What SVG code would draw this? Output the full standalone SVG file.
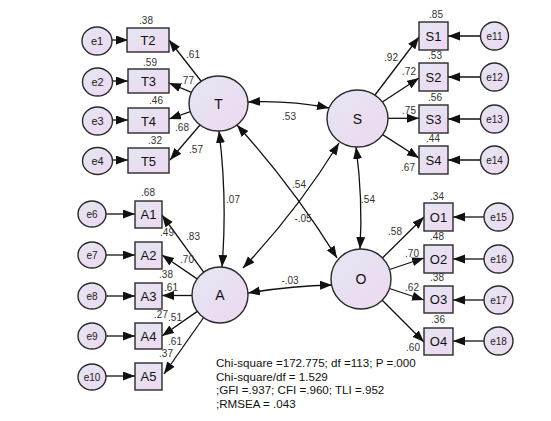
<svg xmlns="http://www.w3.org/2000/svg" width="551" height="421" viewBox="0 0 551 421">
<defs>
<linearGradient id="g" x1="0" y1="0" x2="1" y2="1">
<stop offset="0" stop-color="#e4e6f2"/>
<stop offset="1" stop-color="#eed8f1"/>
</linearGradient>
<marker id="ah" markerUnits="userSpaceOnUse" markerWidth="13" markerHeight="10" refX="12" refY="4.5" orient="auto-start-reverse">
<path d="M0,0 L12,4.5 L0,9 z" fill="#111"/>
</marker>
<style>
.n{fill:url(#g);stroke:#2a2a2a;stroke-width:1.4}
.c{fill:none;stroke:#111;stroke-width:1.3;marker-end:url(#ah)}
.d{fill:none;stroke:#111;stroke-width:1.3;marker-end:url(#ah);marker-start:url(#ah)}
.v{font-family:"Liberation Sans",Arial,sans-serif;font-size:10px;fill:#333;text-anchor:middle}
.b{font-family:"Liberation Sans",Arial,sans-serif;font-size:13px;fill:#111;text-anchor:middle}
.l{font-family:"Liberation Sans",Arial,sans-serif;font-size:14px;fill:#111;text-anchor:middle}
.e{font-family:"Liberation Sans",Arial,sans-serif;font-size:11px;fill:#222;text-anchor:middle}
.s{font-family:"Liberation Sans",Arial,sans-serif;font-size:10px;fill:#222;text-anchor:middle}
.f{font-family:"Liberation Sans",Arial,sans-serif;font-size:11.6px;fill:#111}
</style>
</defs>
<rect width="551" height="421" fill="#fff"/>
<g id="connectors">
<path class="c" d="M112,40 L128,40"/>
<path class="c" d="M112.5,81 L128,81"/>
<path class="c" d="M112.5,120 L128,120"/>
<path class="c" d="M112.5,160 L128,160"/>
<path class="c" d="M106,214 L135,214"/>
<path class="c" d="M106,255 L135,255"/>
<path class="c" d="M106,296 L135,296"/>
<path class="c" d="M106,336 L135,336"/>
<path class="c" d="M106,376 L135,376"/>
<path class="c" d="M480.5,36 L448,36"/>
<path class="c" d="M480.5,77 L448,77"/>
<path class="c" d="M480.5,119 L448,119"/>
<path class="c" d="M480.5,160 L448,160"/>
<path class="c" d="M484,217 L453,217"/>
<path class="c" d="M484,259 L453,259"/>
<path class="c" d="M484,300 L453,300"/>
<path class="c" d="M484,341 L453,341"/>
<path class="c" d="M201,81 L169,40"/>
<path class="c" d="M191.5,92.3 L169,83"/>
<path class="c" d="M190.4,111.7 L169,119"/>
<path class="c" d="M200,125 L170,160"/>
<path class="c" d="M375,95 L419,37"/>
<path class="c" d="M382.4,102 L419,78"/>
<path class="c" d="M388,118.3 L419,118.3"/>
<path class="c" d="M382.6,134.6 L419,158"/>
<path class="c" d="M382.4,258 L424,217"/>
<path class="c" d="M389.5,269.5 L424,258"/>
<path class="c" d="M389.5,288.5 L424,300"/>
<path class="c" d="M382.2,300.2 L424,342"/>
<path class="c" d="M203.7,272.2 L162,215"/>
<path class="c" d="M197.1,278.9 L162,255"/>
<path class="c" d="M192,295.5 L162,295.5"/>
<path class="c" d="M197.3,311.4 L162,336"/>
<path class="c" d="M204,317 L164,374"/>
<path class="d" d="M248,102 Q288,100 329,108"/>
<path class="d" d="M219,131 Q227.5,199 222,267"/>
<path class="d" d="M237,125 Q293,187 337,258"/>
<path class="d" d="M339,143 Q297,211 243,268"/>
<path class="d" d="M356,147 Q363,199 360,249"/>
<path class="d" d="M248,293 Q290,286 332,285"/>
</g>
<g id="T"><ellipse class="n" cx="218.5" cy="103.5" rx="29.5" ry="27.5"/><text class="l" x="218.5" y="108.5">T</text></g>
<g id="S"><ellipse class="n" cx="357.5" cy="118.5" rx="30.5" ry="28.5"/><text class="l" x="357.5" y="123.5">S</text></g>
<g id="A"><ellipse class="n" cx="220" cy="295" rx="28" ry="28"/><text class="l" x="220" y="300">A</text></g>
<g id="O"><ellipse class="n" cx="361" cy="279" rx="30" ry="30"/><text class="l" x="361" y="284">O</text></g>
<g id="T2"><rect class="n" x="127" y="28" width="42" height="24"/><text class="b" x="148" y="45">T2</text></g>
<g id="T3"><rect class="n" x="128" y="69" width="41" height="24"/><text class="b" x="148.5" y="86">T3</text></g>
<g id="T4"><rect class="n" x="128" y="108" width="41" height="25"/><text class="b" x="148.5" y="125.5">T4</text></g>
<g id="T5"><rect class="n" x="128" y="148" width="41" height="25"/><text class="b" x="148.5" y="165.5">T5</text></g>
<g id="A1"><rect class="n" x="135" y="201" width="27" height="27"/><text class="b" x="148.5" y="219">A1</text></g>
<g id="A2"><rect class="n" x="135" y="242" width="27" height="27"/><text class="b" x="148.5" y="260">A2</text></g>
<g id="A3"><rect class="n" x="135" y="283" width="27" height="26"/><text class="b" x="148.5" y="300.5">A3</text></g>
<g id="A4"><rect class="n" x="135" y="323" width="27" height="26"/><text class="b" x="148.5" y="340.5">A4</text></g>
<g id="A5"><rect class="n" x="135" y="363" width="27" height="27"/><text class="b" x="148.5" y="381">A5</text></g>
<g id="S1"><rect class="n" x="419" y="22" width="29" height="28"/><text class="b" x="433.5" y="40.5">S1</text></g>
<g id="S2"><rect class="n" x="419" y="63" width="29" height="28"/><text class="b" x="433.5" y="81.5">S2</text></g>
<g id="S3"><rect class="n" x="419" y="105" width="29" height="28"/><text class="b" x="433.5" y="123.5">S3</text></g>
<g id="S4"><rect class="n" x="419" y="146" width="29" height="28"/><text class="b" x="433.5" y="164.5">S4</text></g>
<g id="O1"><rect class="n" x="424" y="203" width="29" height="28"/><text class="b" x="438.5" y="221.5">O1</text></g>
<g id="O2"><rect class="n" x="424" y="245" width="29" height="28"/><text class="b" x="438.5" y="263.5">O2</text></g>
<g id="O3"><rect class="n" x="424" y="286" width="29" height="27"/><text class="b" x="438.5" y="304">O3</text></g>
<g id="O4"><rect class="n" x="424" y="328" width="29" height="27"/><text class="b" x="438.5" y="346">O4</text></g>
<g id="e1"><ellipse class="n" cx="97" cy="41" rx="15" ry="14"/><text class="e" x="97" y="45">e1</text></g>
<g id="e2"><ellipse class="n" cx="97.5" cy="82" rx="15" ry="14"/><text class="e" x="97.5" y="86">e2</text></g>
<g id="e3"><ellipse class="n" cx="97.5" cy="121" rx="15" ry="14"/><text class="e" x="97.5" y="125">e3</text></g>
<g id="e4"><ellipse class="n" cx="97.5" cy="161" rx="15" ry="13.5"/><text class="e" x="97.5" y="165">e4</text></g>
<g id="e6"><ellipse class="n" cx="92" cy="214" rx="14" ry="13"/><text class="s" x="92" y="217.5">e6</text></g>
<g id="e7"><ellipse class="n" cx="92" cy="255" rx="14" ry="13"/><text class="s" x="92" y="258.5">e7</text></g>
<g id="e8"><ellipse class="n" cx="92" cy="296" rx="14" ry="13"/><text class="s" x="92" y="299.5">e8</text></g>
<g id="e9"><ellipse class="n" cx="92" cy="336" rx="14" ry="13"/><text class="s" x="92" y="339.5">e9</text></g>
<g id="e10"><ellipse class="n" cx="92" cy="377" rx="14" ry="13"/><text class="s" x="92" y="380.5">e10</text></g>
<g id="e11"><ellipse class="n" cx="494.5" cy="36" rx="14" ry="14"/><text class="s" x="494.5" y="39.5">e11</text></g>
<g id="e12"><ellipse class="n" cx="494.5" cy="77" rx="14" ry="14"/><text class="s" x="494.5" y="80.5">e12</text></g>
<g id="e13"><ellipse class="n" cx="494.5" cy="119" rx="14" ry="14"/><text class="s" x="494.5" y="122.5">e13</text></g>
<g id="e14"><ellipse class="n" cx="494.5" cy="160" rx="14" ry="14"/><text class="s" x="494.5" y="163.5">e14</text></g>
<g id="e15"><ellipse class="n" cx="498.5" cy="217" rx="14.5" ry="14"/><text class="s" x="498.5" y="220.5">e15</text></g>
<g id="e16"><ellipse class="n" cx="498.5" cy="259" rx="14.5" ry="14"/><text class="s" x="498.5" y="262.5">e16</text></g>
<g id="e17"><ellipse class="n" cx="498.5" cy="300" rx="14.5" ry="14"/><text class="s" x="498.5" y="303.5">e17</text></g>
<g id="e18"><ellipse class="n" cx="498.5" cy="341" rx="14.5" ry="14"/><text class="s" x="498.5" y="344.5">e18</text></g>
<g id="labels">
<text class="v" x="146" y="23.5">.38</text>
<text class="v" x="193" y="57.5">.61</text>
<text class="v" x="150" y="65.5">.59</text>
<text class="v" x="187" y="83.5">.77</text>
<text class="v" x="156" y="103.5">.46</text>
<text class="v" x="182" y="130.5">.68</text>
<text class="v" x="155" y="143.5">.32</text>
<text class="v" x="196" y="152.5">.57</text>
<text class="v" x="436" y="17.5">.85</text>
<text class="v" x="391" y="60.5">.92</text>
<text class="v" x="435" y="58.5">.53</text>
<text class="v" x="409" y="74.5">.72</text>
<text class="v" x="435" y="100.5">.56</text>
<text class="v" x="409" y="114">.75</text>
<text class="v" x="433" y="141.5">.44</text>
<text class="v" x="408" y="170.5">.67</text>
<text class="v" x="437" y="199.5">.34</text>
<text class="v" x="395" y="235">.58</text>
<text class="v" x="437" y="239.5">.48</text>
<text class="v" x="412" y="256.5">.70</text>
<text class="v" x="437" y="281">.38</text>
<text class="v" x="412" y="291">.62</text>
<text class="v" x="438" y="322.5">.36</text>
<text class="v" x="413" y="351">.60</text>
<text class="v" x="148" y="195.5">.68</text>
<text class="v" x="167" y="236">.49</text>
<text class="v" x="193" y="239.5">.83</text>
<text class="v" x="187" y="262.5">.70</text>
<text class="v" x="166" y="277.5">.38</text>
<text class="v" x="171" y="290.5">.61</text>
<text class="v" x="161" y="318">.27</text>
<text class="v" x="175" y="320.5">.51</text>
<text class="v" x="175" y="344.5">.61</text>
<text class="v" x="166" y="356.5">.37</text>
<text class="v" x="289" y="119.5">.53</text>
<text class="v" x="233" y="202.5">.07</text>
<text class="v" x="299" y="187.5">.54</text>
<text class="v" x="303" y="221.5">-.05</text>
<text class="v" x="368" y="202.5">.54</text>
<text class="v" x="290" y="283.5">-.03</text>
</g>
<g id="fit">
<text class="f" x="216" y="367">Chi-square =172.775; df =113; P =.000</text>
<text class="f" x="216" y="380.5">Chi-square/df = 1.529</text>
<text class="f" x="216" y="394">;GFI =.937; CFI =.960; TLI =.952</text>
<text class="f" x="216" y="407.5">;RMSEA = .043</text>
</g>
</svg>
